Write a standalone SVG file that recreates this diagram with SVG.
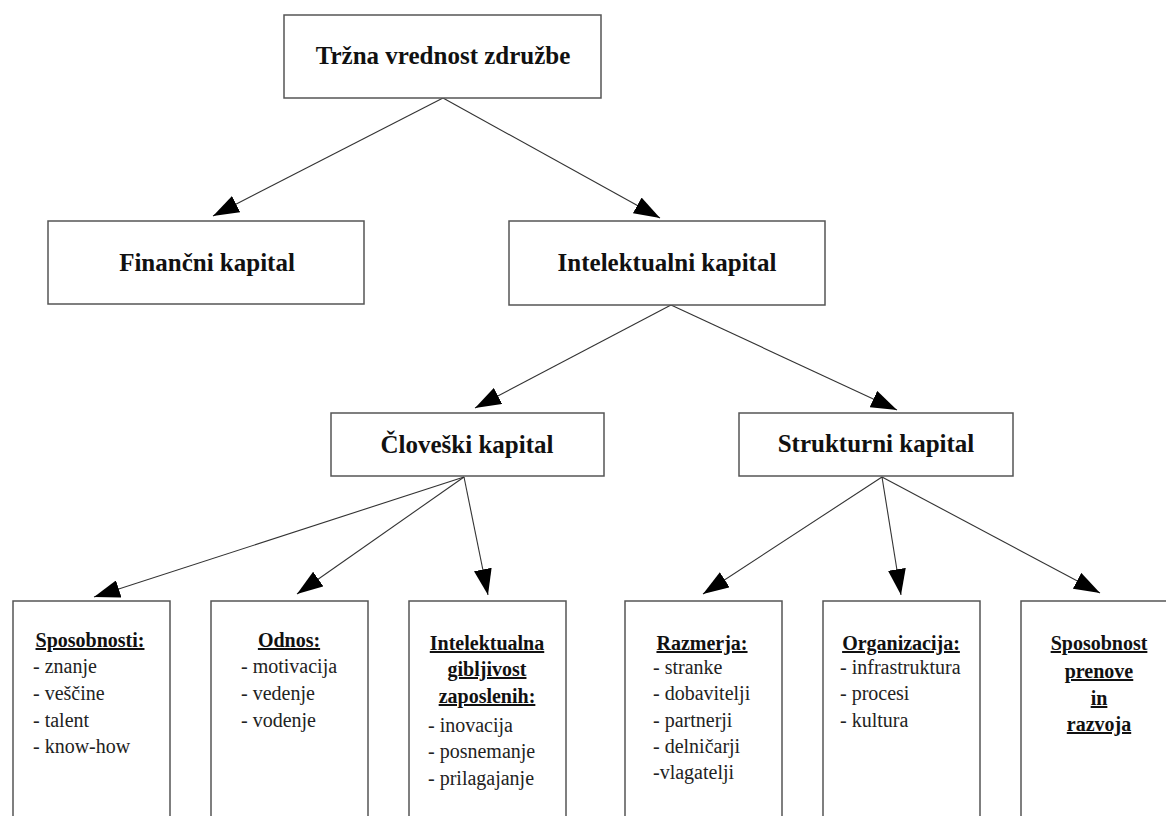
<svg xmlns="http://www.w3.org/2000/svg" width="1166" height="816" viewBox="0 0 1166 816">
<style>
.box{fill:#fff;stroke:#555;stroke-width:1.5}
.t{font-family:"Liberation Serif","Times New Roman",serif;font-weight:bold;font-size:25px;fill:#111;text-anchor:middle}
.h{font-family:"Liberation Serif","Times New Roman",serif;font-weight:bold;font-size:20px;fill:#111;text-anchor:middle;text-decoration:underline}
.l{font-family:"Liberation Serif","Times New Roman",serif;font-size:20px;fill:#222}
.c{stroke:#333;stroke-width:1.1;fill:none;marker-end:url(#ah)}
</style>
<defs>
<marker id="ah" viewBox="0 0 26 18" refX="26" refY="9" markerWidth="26" markerHeight="18" markerUnits="userSpaceOnUse" orient="auto">
<path d="M0,0 L26,9 L0,18 z" fill="#000"/>
</marker>
</defs>
<rect width="1166" height="816" fill="#fff"/>
<g id="connectors">
<line class="c" x1="443" y1="98" x2="213" y2="216"/>
<line class="c" x1="443" y1="98" x2="660" y2="218"/>
<line class="c" x1="671" y1="305" x2="475" y2="408"/>
<line class="c" x1="671" y1="305" x2="897" y2="410"/>
<line class="c" x1="464" y1="477" x2="94" y2="597"/>
<line class="c" x1="464" y1="477" x2="297" y2="594"/>
<line class="c" x1="464" y1="477" x2="488" y2="595"/>
<line class="c" x1="882" y1="477" x2="703" y2="594"/>
<line class="c" x1="882" y1="477" x2="901" y2="595"/>
<line class="c" x1="882" y1="477" x2="1100" y2="593"/>
</g>
<g id="trzna">
<rect class="box" x="284" y="15" width="317" height="83"/>
<text class="t" x="443" y="64">Tržna vrednost združbe</text>
</g>
<g id="financni">
<rect class="box" x="48" y="221" width="316" height="83"/>
<text class="t" x="207" y="271">Finančni kapital</text>
</g>
<g id="intelektualni">
<rect class="box" x="509" y="221" width="316" height="84"/>
<text class="t" x="667" y="271">Intelektualni kapital</text>
</g>
<g id="cloveski">
<rect class="box" x="331" y="413" width="273" height="63"/>
<text class="t" x="467" y="453">Človeški kapital</text>
</g>
<g id="strukturni">
<rect class="box" x="739" y="413" width="274" height="63"/>
<text class="t" x="876" y="452">Strukturni kapital</text>
</g>
<g id="sposobnosti">
<rect class="box" x="13" y="601" width="157" height="230"/>
<text class="h" x="90" y="647">Sposobnosti:</text>
<text class="l" x="33" y="673">- znanje</text>
<text class="l" x="33" y="700">- veščine</text>
<text class="l" x="33" y="727">- talent</text>
<text class="l" x="33" y="753">- know-how</text>
</g>
<g id="odnos">
<rect class="box" x="211" y="601" width="157" height="230"/>
<text class="h" x="289" y="647">Odnos:</text>
<text class="l" x="241" y="673">- motivacija</text>
<text class="l" x="241" y="700">- vedenje</text>
<text class="l" x="241" y="727">- vodenje</text>
</g>
<g id="gibljivost">
<rect class="box" x="409" y="601" width="157" height="230"/>
<text class="h" x="487" y="650">Intelektualna</text>
<text class="h" x="487" y="676">gibljivost</text>
<text class="h" x="487" y="703">zaposlenih:</text>
<text class="l" x="428" y="732">- inovacija</text>
<text class="l" x="428" y="758">- posnemanje</text>
<text class="l" x="428" y="785">- prilagajanje</text>
</g>
<g id="razmerja">
<rect class="box" x="625" y="601" width="157" height="230"/>
<text class="h" x="702" y="650">Razmerja:</text>
<text class="l" x="653" y="674">- stranke</text>
<text class="l" x="653" y="700">- dobavitelji</text>
<text class="l" x="653" y="727">- partnerji</text>
<text class="l" x="653" y="753">- delničarji</text>
<text class="l" x="653" y="779">-vlagatelji</text>
</g>
<g id="organizacija">
<rect class="box" x="823" y="601" width="157" height="230"/>
<text class="h" x="901" y="650">Organizacija:</text>
<text class="l" x="840" y="674">- infrastruktura</text>
<text class="l" x="840" y="700">- procesi</text>
<text class="l" x="840" y="727">- kultura</text>
</g>
<g id="prenova">
<rect class="box" x="1021" y="601" width="157" height="230"/>
<text class="h" x="1099" y="650">Sposobnost</text>
<text class="h" x="1099" y="678">prenove</text>
<text class="h" x="1099" y="705">in</text>
<text class="h" x="1099" y="731">razvoja</text>
</g>
</svg>
